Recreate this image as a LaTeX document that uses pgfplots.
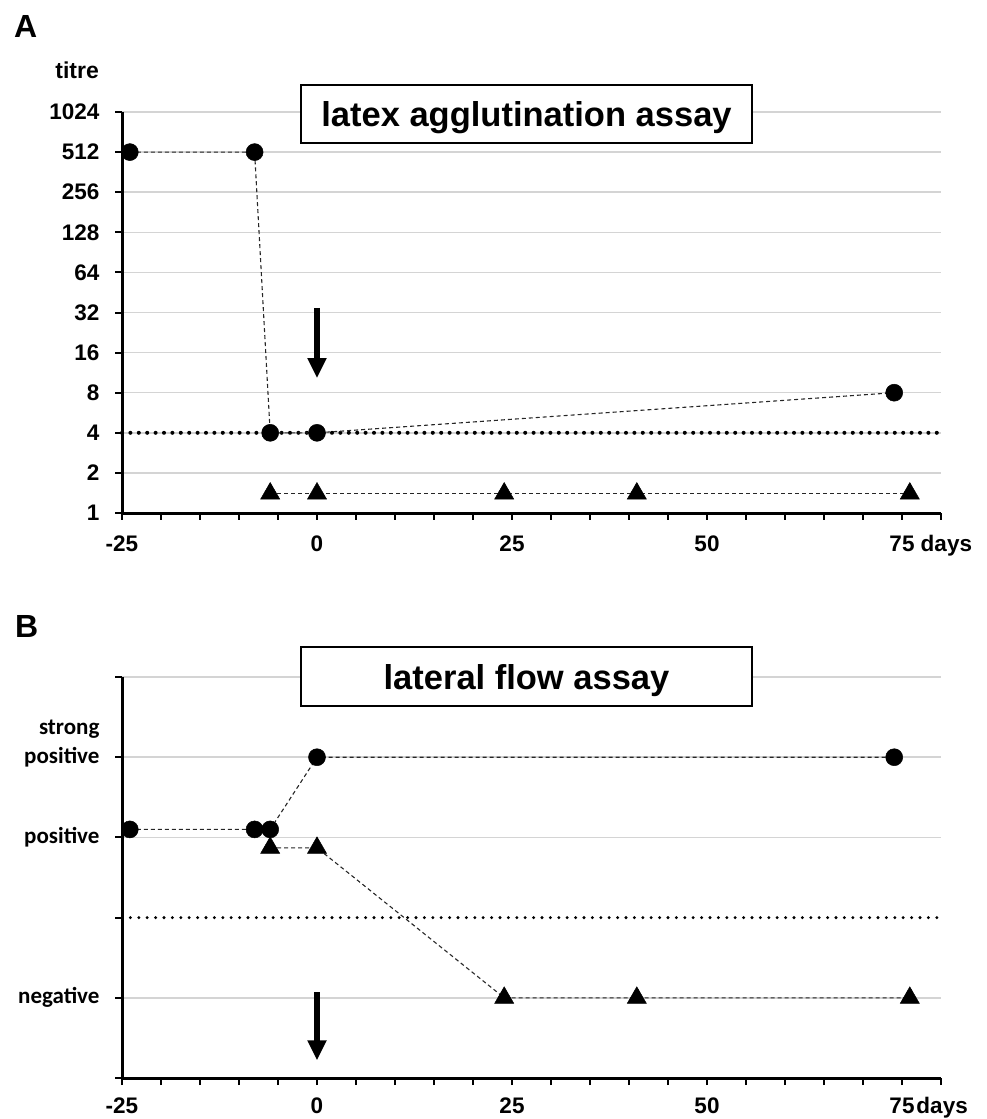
\documentclass[border=0pt]{standalone}
\usepackage{fontspec}
\setmainfont{Liberation Sans}
\newfontfamily\carlito{Carlito}
\usepackage{pgfplots}
\pgfplotsset{compat=1.18}
\usetikzlibrary{arrows.meta}

\pgfplotsset{
  assay/.style={
    scale only axis, width=819pt, height=401pt, anchor=south west,
    xmin=-25, xmax=80,
    axis x line=bottom, axis y line=left,
    axis line style={line width=3pt, -},
    tick align=outside, major tick length=7pt,
    tick style={line width=2pt, black},
    xtick={-25,-20,...,80},
    ymajorgrids, grid style={line width=1.5pt, color=black!17},
    ticklabel style={font=\fontsize{22.5}{27}\selectfont\bfseries},
    yticklabel style={xshift=-12pt},
    clip=false,
  },
  ser/.style={black!85, line width=1.1pt, dash pattern=on 4pt off 3pt,
    mark options={solid, fill=black, draw=black, line width=0.5pt}},
  cutoff/.style={black, dash pattern=on 0pt off 8.4pt, line cap=round},
}

\begin{document}
\begin{tikzpicture}
\useasboundingbox (0,0) rectangle (987pt,-1119pt);

% A: latex agglutination
\begin{axis}[assay, at={(122pt,-513pt)},
  xticklabels={-25,,,,,0,,,,,25,,,,,50,,,,,75\rlap{ days},},
  xticklabel style={yshift=-12pt},
  ymode=log, log basis y=2, ymin=1, ymax=1024,
  ytick={1,2,4,8,16,32,64,128,256,512,1024},
  yticklabels={1,2,4,8,16,32,64,128,256,512,1024}]
\addplot[cutoff, line width=4pt] coordinates {(-25,4) (80,4)};
\addplot[ser, mark=*, mark size=8.5pt] coordinates {(-24,512) (-8,512) (-6,4) (0,4) (74,8)};
\addplot[ser, mark=triangle*, mark size=11pt] coordinates {(-6,1.4) (0,1.4) (24,1.4) (41,1.4) (76,1.4)};
\draw[line width=6pt, -{Triangle[width=18pt,length=20pt]}] (axis cs:0,34.6) -- (axis cs:0,10.3);
\end{axis}

% B: lateral flow
\begin{axis}[assay, at={(122pt,-1078pt)},
  xticklabels={-25,,,,,0,,,,,25,,,,,50,,,,,75\rlap{\kern2pt days},},
  xticklabel style={yshift=-9pt},
  ymin=0, ymax=5,
  ytick={0,1,3,4,5},
  yticklabels={,negative,positive,{positive\llap{\raisebox{29pt}[0pt][0pt]{strong}}},},
  extra y ticks={2}, extra y tick labels={}, extra y tick style={grid=none},
  yticklabel style={font=\fontsize{23}{28}\selectfont\carlito\bfseries}]
\addplot[cutoff, line width=3.3pt] coordinates {(-25,2) (80,2)};
\addplot[ser, mark=*, mark size=8.5pt] coordinates {(-24,3.1) (-8,3.1) (-6,3.1) (0,4) (74,4)};
\addplot[ser, mark=triangle*, mark size=11pt] coordinates {(-6,2.87) (0,2.87) (24,1) (41,1) (76,1)};
\draw[line width=6pt, -{Triangle[width=18pt,length=20pt]}] (axis cs:0,1.07) -- (axis cs:0,0.22);
\end{axis}

% titles and labels
\draw[line width=2pt, fill=white] (301pt,-85pt) rectangle (752pt,-143pt);
\node[anchor=base, inner sep=0pt, font=\fontsize{34.5}{40}\selectfont\bfseries] at (526.5pt,-126.7pt) {latex agglutination assay};
\draw[line width=2pt, fill=white] (301pt,-647pt) rectangle (752pt,-706pt);
\node[anchor=base, inner sep=0pt, font=\fontsize{34.5}{40}\selectfont\bfseries] at (526.5pt,-689pt) {lateral flow assay};
\node[anchor=base east, inner sep=0pt, font=\fontsize{23}{28}\selectfont\bfseries] at (99pt,-78pt) {titre};
\node[anchor=base west, inner sep=0pt, font=\fontsize{32}{38}\selectfont\bfseries] at (14pt,-37pt) {A};
\node[anchor=base west, inner sep=0pt, font=\fontsize{32}{38}\selectfont\bfseries] at (15pt,-637pt) {B};
\end{tikzpicture}
\end{document}
